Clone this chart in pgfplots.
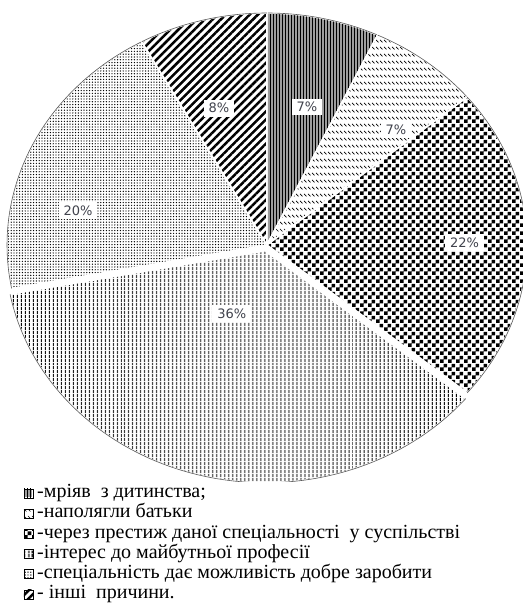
\documentclass[border=0pt]{standalone}
\usepackage{pgfplots}
\pgfplotsset{compat=1.18}
\usepackage{pgfplotstable}
\usetikzlibrary{patterns,patterns.meta}
\usepackage{fontspec}
\setmainfont{Liberation Serif}
\newfontfamily\lblfont{DejaVu Sans}
\definecolor{lbltext}{RGB}{64,66,76}

\pgfdeclarepatternformonly{bigchecker}{\pgfpointorigin}{\pgfqpoint{8pt}{8pt}}{\pgfqpoint{8pt}{8pt}}{%
  \pgfpathrectangle{\pgfpointorigin}{\pgfqpoint{4pt}{4pt}}%
  \pgfpathrectangle{\pgfqpoint{4pt}{4pt}}{\pgfqpoint{4pt}{4pt}}%
  \pgfusepath{fill}}
\pgfdeclarepatternformonly{dashdiag}{\pgfqpoint{-0.5pt}{-0.5pt}}{\pgfqpoint{4.5pt}{7.5pt}}{\pgfqpoint{4pt}{7pt}}{%
  \pgfsetlinewidth{0.7pt}%
  \pgfpathmoveto{\pgfqpoint{0pt}{3pt}}\pgfpathlineto{\pgfqpoint{2.5pt}{0.5pt}}%
  \pgfusepath{stroke}}

\tikzset{
 slice0/.style={preaction={fill=black!38}, pattern={Lines[angle=90,distance=3pt,line width=0.9pt]}},
 slice1/.style={preaction={fill=white}, pattern=dashdiag},
 slice2/.style={preaction={fill=white}, pattern=bigchecker},
 slice3/.style={preaction={fill=white}, pattern={Lines[angle=90,distance=4pt,line width=1.3pt]}},
 slice4/.style={preaction={fill=white}, pattern={Dots[distance=2.8pt,radius=0.7pt]}},
 slice5/.style={preaction={fill=white}, pattern={Lines[angle=45,distance=5.7pt,line width=2.5pt]}},
 lbl/.style={font=\lblfont\fontsize{13}{13}\selectfont, text=lbltext, fill=white, inner xsep=5pt, inner ysep=3.5pt},
}

% pct = share (%), lx/ly = label position, ex/ey = slice offset (exploded)
\pgfplotstableread{
pct lx ly ex ey
7 0.154 0.595 0 0
7 0.496 0.496 0 0
22 0.76 0.01 0 0
36 -0.135 -0.297 -0.006 -0.025
20 -0.727 0.147 0 0
8 -0.185 0.59 0 0
}\piedata

\begin{document}
\begin{tikzpicture}
\begin{axis}[
  hide axis, scale only axis,
  width=523pt, height=481.6pt,
  xmin=-1.027, xmax=0.985, ymin=-1.02, ymax=1.056,
  legend style={at={(0.045,-0.003)}, anchor=north west, draw=none, fill=none, inner sep=0pt,
    font=\fontsize{20}{20}\selectfont, row sep=0pt, column sep=3pt,
    nodes={inner sep=1pt, text height=13.5pt, text depth=4.7pt}},
  legend cell align=left,
  legend image code/.code={\draw[#1, draw=black, line width=0.5pt] (0pt,-4.5pt) rectangle (9pt,4.5pt);},
]
\def\cum{0}
\pgfplotsforeachungrouped \i in {0,...,5}{%
  \pgfplotstablegetelem{\i}{pct}\of\piedata \let\p\pgfplotsretval
  \pgfplotstablegetelem{\i}{ex}\of\piedata \let\ex\pgfplotsretval
  \pgfplotstablegetelem{\i}{ey}\of\piedata \let\ey\pgfplotsretval
  \pgfmathsetmacro{\a}{\cum}%
  \pgfmathsetmacro{\b}{\cum+\p}%
  \edef\temp{\noexpand\addplot[slice\i, draw=white, line width=1.5pt, domain=\a:\b, samples=90] ({\ex+cos(90-3.6*x)}, {\ey+sin(90-3.6*x)}) -- (axis cs:\ex,\ey) -- cycle;}%
  \temp
  \edef\temp{\noexpand\addplot[forget plot, draw=black!65, line width=0.6pt, domain=\a:\b, samples=90] ({\ex+cos(90-3.6*x)}, {\ey+sin(90-3.6*x)});}%
  \temp
  \global\let\cum\b
}
\pgfplotsforeachungrouped \i in {0,...,5}{%
  \pgfplotstablegetelem{\i}{pct}\of\piedata \let\p\pgfplotsretval
  \pgfplotstablegetelem{\i}{lx}\of\piedata \let\lx\pgfplotsretval
  \pgfplotstablegetelem{\i}{ly}\of\piedata \let\ly\pgfplotsretval
  \edef\temp{\noexpand\node[lbl] at (axis cs:\lx,\ly) {\p\noexpand\%};}%
  \temp
}
\legend{-мріяв\ \ з дитинства;, -наполягли батьки, -через престиж даної спеціальності\ \ у суспільстві, -інтерес до майбутньої професії, -спеціальність дає можливість добре заробити, - інші\ \ причини.}
\coordinate (bbA) at (rel axis cs:0,0);
\coordinate (bbB) at (rel axis cs:1,1);
\end{axis}
\pgfresetboundingbox
\path (bbA) ++(0,-121.4pt) rectangle (bbB);
\end{tikzpicture}
\end{document}
